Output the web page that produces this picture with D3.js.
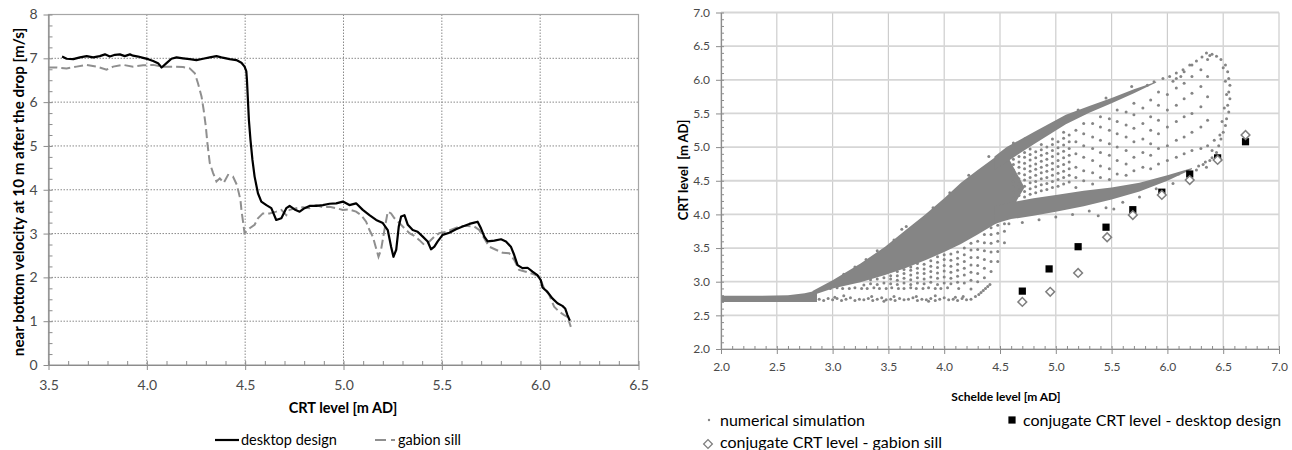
<!DOCTYPE html>
<html>
<head>
<meta charset="utf-8">
<script src="https://cdn.jsdelivr.net/npm/d3@7"></script>
<style>
  body { margin: 0; background: #fff; }
  svg { font-family: Lato, "Open Sans", sans-serif; }
</style>
</head>
<body>
<div id="chart"></div>
<script>
// ---- left chart: near bottom velocity vs CRT level ----
const desktopDesign = [
  [3.569,7.04],[3.592,6.99],[3.626,6.98],[3.660,7.02],[3.694,7.05],[3.727,7.02],[3.761,7.05],[3.787,7.09],
  [3.812,7.04],[3.838,7.08],[3.863,7.09],[3.888,7.05],[3.914,7.09],[3.930,7.06],[3.956,7.04],[3.981,7.01],
  [4.007,6.98],[4.032,6.94],[4.057,6.89],[4.075,6.79],[4.100,6.89],[4.125,6.99],[4.151,7.02],[4.184,7.00],
  [4.218,6.98],[4.252,6.96],[4.286,6.99],[4.320,7.02],[4.354,7.05],[4.379,7.02],[4.421,6.98],[4.455,6.96],
  [4.481,6.90],[4.497,6.81],[4.506,6.70],[4.509,6.51],[4.514,6.05],[4.519,5.59],[4.527,5.14],[4.537,4.68],
  [4.548,4.30],[4.565,3.92],[4.582,3.73],[4.608,3.65],[4.633,3.58],[4.658,3.31],[4.684,3.35],[4.709,3.58],
  [4.726,3.63],[4.751,3.55],[4.777,3.50],[4.802,3.58],[4.827,3.63],[4.861,3.63],[4.895,3.65],[4.929,3.68],
  [4.963,3.69],[4.997,3.73],[5.030,3.65],[5.064,3.69],[5.098,3.54],[5.132,3.42],[5.166,3.31],[5.200,3.24],
  [5.225,3.08],[5.242,2.70],[5.254,2.47],[5.268,2.63],[5.281,3.16],[5.293,3.39],[5.310,3.42],[5.327,3.20],
  [5.352,3.08],[5.377,3.04],[5.403,2.93],[5.428,2.82],[5.445,2.64],[5.462,2.70],[5.479,2.82],[5.504,2.97],
  [5.538,3.02],[5.572,3.10],[5.606,3.16],[5.640,3.22],[5.665,3.25],[5.682,3.27],[5.699,3.12],[5.716,2.93],
  [5.733,2.82],[5.767,2.84],[5.801,2.87],[5.826,2.82],[5.851,2.70],[5.868,2.51],[5.885,2.28],[5.910,2.21],
  [5.936,2.22],[5.961,2.13],[5.986,2.05],[6.003,1.94],[6.012,1.77],[6.037,1.67],[6.062,1.52],[6.088,1.41],
  [6.113,1.35],[6.127,1.29],[6.139,1.14],[6.151,1.01]
];
const gabionSill = [
  [3.499,6.79],[3.542,6.79],[3.592,6.77],[3.643,6.81],[3.694,6.85],[3.745,6.81],[3.795,6.74],[3.829,6.81],
  [3.880,6.85],[3.930,6.81],[3.981,6.84],[4.032,6.85],[4.083,6.81],[4.134,6.81],[4.184,6.80],[4.218,6.77],
  [4.244,6.66],[4.260,6.43],[4.278,6.13],[4.289,5.82],[4.300,5.44],[4.308,5.06],[4.320,4.61],[4.337,4.38],
  [4.354,4.19],[4.371,4.26],[4.391,4.16],[4.413,4.34],[4.438,4.30],[4.458,4.11],[4.476,3.77],[4.481,3.54],
  [4.489,3.27],[4.497,3.01],[4.523,3.12],[4.548,3.20],[4.565,3.35],[4.590,3.46],[4.624,3.46],[4.658,3.50],
  [4.684,3.54],[4.709,3.42],[4.726,3.54],[4.760,3.58],[4.793,3.60],[4.827,3.58],[4.861,3.65],[4.895,3.60],
  [4.929,3.61],[4.963,3.58],[4.997,3.54],[5.030,3.55],[5.064,3.50],[5.090,3.42],[5.115,3.27],[5.132,3.08],
  [5.149,2.93],[5.166,2.66],[5.178,2.47],[5.191,2.63],[5.208,3.08],[5.225,3.50],[5.242,3.46],[5.259,3.35],
  [5.284,3.24],[5.310,3.12],[5.335,3.01],[5.360,2.95],[5.386,2.85],[5.411,2.74],[5.437,2.82],[5.462,2.93],
  [5.487,3.01],[5.521,3.04],[5.555,3.10],[5.597,3.17],[5.631,3.17],[5.665,3.16],[5.690,3.08],[5.716,2.89],
  [5.741,2.70],[5.775,2.63],[5.809,2.56],[5.843,2.55],[5.868,2.40],[5.893,2.17],[5.927,2.13],[5.961,2.08],
  [5.995,2.02],[6.020,1.75],[6.046,1.60],[6.071,1.33],[6.096,1.22],[6.122,1.14],[6.139,1.10],[6.147,0.99],
  [6.156,0.87]
];
const leftXTicks = [3.5, 4.0, 4.5, 5.0, 5.5, 6.0, 6.5];
const leftYTicks = [0, 1, 2, 3, 4, 5, 6, 7, 8];

// ---- right chart: CRT level vs Schelde level ----
// solid parts of the simulation cloud, columns of [Schelde level, low CRT, high CRT]
const simBand = [[2.0,2.70,2.79],[2.3,2.70,2.79],[2.6,2.70,2.80],[2.75,2.70,2.83],[2.86,2.70,2.87]];
const simCore = [[2.82,2.80,2.86],[3.00,2.90,3.02],[3.25,2.99,3.27],[3.47,3.10,3.52],[3.65,3.20,3.76],
  [3.83,3.32,4.00],[4.00,3.44,4.24],[4.15,3.56,4.47],[4.30,3.70,4.66],[4.45,3.85,4.84],[4.55,3.93,4.92],
  [4.72,4.40,4.40]];
const simUpper = [[4.45,4.66,4.86],[4.56,4.78,5.00],[4.80,5.04,5.22],[5.09,5.34,5.48],[5.30,5.51,5.61],
  [5.50,5.65,5.73],[5.70,5.80,5.86],[5.90,5.96,5.97]];
const simLower = [[4.45,3.86,4.12],[4.60,3.93,4.18],[4.80,3.98,4.24],[5.00,4.04,4.29],[5.25,4.12,4.35],
  [5.50,4.22,4.40],[5.75,4.34,4.47],[6.00,4.50,4.58],[6.22,4.67,4.69]];
// scattered simulation points
const simPoints = [
  // bottom row near 2.73
  [2.88,2.74],[2.92,2.72],[2.96,2.75],[3.00,2.73],[3.04,2.75],[3.08,2.72],[3.12,2.74],[3.16,2.76],[3.20,2.72],
  [3.24,2.74],[3.28,2.73],[3.32,2.75],[3.36,2.72],[3.40,2.74],[3.44,2.76],[3.48,2.73],[3.52,2.74],[3.56,2.72],
  [3.60,2.75],[3.64,2.73],[3.68,2.74],[3.72,2.76],[3.76,2.72],[3.80,2.74],[3.84,2.73],[3.88,2.75],[3.92,2.72],
  [3.96,2.74],[4.00,2.76],[4.04,2.73],[4.08,2.74],[4.12,2.72],[4.16,2.75],[4.20,2.73],[4.24,2.74],[3.10,2.79],
  [3.55,2.78],[3.92,2.79],[4.17,2.78],[3.35,2.78],[3.75,2.78],[3.02,2.77],[3.46,2.71],[3.86,2.71],[4.10,2.77],
  [4.28,2.78],[4.31,2.81],[4.33,2.84],[4.35,2.87],[4.37,2.90],[4.39,2.93],[4.41,2.96],
  // row near 2.9
  [2.98,2.90],[3.04,2.91],[3.09,2.90],[3.15,2.90],[3.20,2.91],[3.26,2.90],[3.31,2.90],[3.37,2.91],[3.42,2.90],
  [3.48,2.90],[3.53,2.91],[3.59,2.90],[3.64,2.90],[3.70,2.91],[3.75,2.90],[3.81,2.90],[3.86,2.91],[3.92,2.90],
  [3.97,2.90],[4.03,2.91],[4.13,2.90],[4.24,2.89],
  // below the wedge
  [3.28,2.95],[3.34,2.97],[3.34,3.03],[3.40,2.96],[3.40,3.04],[3.46,2.98],[3.46,3.06],
  [3.52,2.97],[3.52,3.04],[3.52,3.09],[3.58,2.96],[3.58,3.02],[3.58,3.09],[3.58,3.15],
  [3.64,2.98],[3.64,3.05],[3.64,3.12],[3.64,3.18],[3.70,2.96],[3.70,3.03],[3.70,3.10],[3.70,3.17],[3.70,3.22],
  [3.76,2.98],[3.76,3.06],[3.76,3.13],[3.76,3.20],[3.76,3.27],[3.82,2.97],[3.82,3.04],[3.82,3.12],[3.82,3.19],
  [3.82,3.26],[3.88,2.99],[3.88,3.07],[3.88,3.15],[3.88,3.23],[3.88,3.31],[3.94,2.96],[3.94,3.05],[3.94,3.13],
  [3.94,3.21],[3.94,3.29],[3.94,3.37],[4.00,2.98],[4.00,3.07],[4.00,3.16],[4.00,3.24],[4.00,3.33],[4.00,3.40],
  [4.06,2.97],[4.06,3.05],[4.06,3.14],[4.06,3.23],[4.06,3.32],[4.06,3.41],[4.12,2.99],[4.12,3.08],[4.12,3.17],
  [4.12,3.26],[4.12,3.35],[4.12,3.44],[4.18,2.98],[4.18,3.10],[4.18,3.20],[4.18,3.30],[4.18,3.40],[4.18,3.50],
  [4.24,3.02],[4.24,3.14],[4.24,3.25],[4.24,3.36],[4.24,3.47],[4.24,3.57],[4.30,3.00],[4.30,3.12],[4.30,3.24],
  [4.30,3.36],[4.30,3.48],[4.30,3.60],[4.36,3.06],[4.36,3.20],[4.36,3.33],[4.36,3.46],[4.36,3.58],[4.36,3.70],
  [4.42,3.15],[4.42,3.30],[4.42,3.44],[4.42,3.57],[4.42,3.70],[4.42,3.80],[4.48,3.30],[4.48,3.45],[4.48,3.60],
  [4.48,3.72],[4.48,3.84],[4.54,3.58],[4.54,3.75],[4.54,3.86],
  // rough upper edge
  [3.10,3.11],[3.30,3.33],[3.55,3.62],[3.62,3.78],[3.66,3.82],[3.90,4.10],[4.05,4.32],[4.22,4.58],[4.40,4.86],
  [4.62,5.06],[4.72,5.12],[4.95,5.32],[5.20,5.55],[5.45,5.73],[5.68,5.90],[3.20,3.22],[3.40,3.46],
  // between the arms
  [4.62,4.24],[4.62,4.33],[4.62,4.41],[4.62,4.49],[4.62,4.57],[4.62,4.66],[4.62,4.74],[4.62,4.82],
  [4.67,4.28],[4.67,4.36],[4.67,4.45],[4.67,4.53],[4.67,4.61],[4.67,4.70],[4.67,4.78],[4.67,4.86],
  [4.72,4.26],[4.72,4.34],[4.72,4.42],[4.72,4.51],[4.72,4.59],[4.72,4.68],[4.72,4.76],[4.72,4.85],[4.72,4.92],
  [4.77,4.30],[4.77,4.38],[4.77,4.47],[4.77,4.55],[4.77,4.64],[4.77,4.72],[4.77,4.81],[4.77,4.89],[4.77,4.97],
  [4.82,4.32],[4.82,4.41],[4.82,4.49],[4.82,4.58],[4.82,4.67],[4.82,4.75],[4.82,4.84],[4.82,4.93],
  [4.87,4.35],[4.87,4.44],[4.87,4.53],[4.87,4.62],[4.87,4.70],[4.87,4.79],[4.87,4.88],[4.87,4.96],[4.87,5.04],
  [4.92,4.37],[4.92,4.46],[4.92,4.55],[4.92,4.64],[4.92,4.73],[4.92,4.82],[4.92,4.91],[4.92,5.00],
  [4.97,4.40],[4.97,4.49],[4.97,4.58],[4.97,4.67],[4.97,4.76],[4.97,4.86],[4.97,4.95],[4.97,5.04],[4.97,5.12],
  [5.02,4.42],[5.02,4.52],[5.02,4.61],[5.02,4.71],[5.02,4.80],[5.02,4.90],[5.02,4.99],[5.02,5.08],
  [5.07,4.45],[5.07,4.55],[5.07,4.64],[5.07,4.74],[5.07,4.84],[5.07,4.94],[5.07,5.03],[5.07,5.13],[5.07,5.22],
  [5.12,4.48],[5.12,4.58],[5.12,4.68],[5.12,4.78],[5.12,4.88],[5.12,4.98],[5.12,5.08],[5.12,5.18],
  [5.18,4.40],[5.18,4.55],[5.18,4.70],[5.18,4.90],[5.18,5.08],[5.18,5.25],
  [5.25,4.50],[5.25,4.65],[5.25,4.85],[5.25,5.02],[5.25,5.20],[5.25,5.35],
  [5.33,4.45],[5.33,4.62],[5.33,4.80],[5.33,4.98],[5.33,5.15],[5.33,5.35],
  [5.40,4.55],[5.40,4.72],[5.40,4.92],[5.40,5.10],[5.40,5.30],[5.40,5.45],
  [5.48,4.52],[5.48,4.68],[5.48,4.88],[5.48,5.05],[5.48,5.25],[5.48,5.42],
  [5.55,4.60],[5.55,4.80],[5.55,5.00],[5.55,5.20],[5.55,5.38],[5.55,5.55],
  [5.63,4.58],[5.63,4.75],[5.63,4.95],[5.63,5.15],[5.63,5.33],[5.63,5.52],
  [5.70,4.65],[5.70,4.85],[5.70,5.08],[5.70,5.28],[5.70,5.48],[5.70,5.65],
  [5.78,4.70],[5.78,4.92],[5.78,5.12],[5.78,5.35],[5.78,5.58],
  [5.85,4.68],[5.85,4.88],[5.85,5.05],[5.85,5.25],[5.85,5.45],[5.85,5.70],
  [5.92,4.75],[5.92,4.98],[5.92,5.20],[5.92,5.40],[5.92,5.62],[5.92,5.82],
  [6.00,4.80],[6.00,5.02],[6.00,5.30],[6.00,5.55],[6.00,5.78],
  [6.08,4.85],[6.08,5.10],[6.08,5.38],[6.08,5.62],[6.08,5.88],[6.08,6.02],
  [6.15,4.90],[6.15,5.15],[6.15,5.45],[6.15,5.72],[6.15,5.95],[6.15,6.12],
  [6.22,4.95],[6.22,5.22],[6.22,5.50],[6.22,5.80],[6.22,6.05],[6.22,6.22],
  [6.30,4.98],[6.30,5.30],[6.30,5.60],[6.30,5.90],[6.30,6.15],
  [6.36,5.02],[6.36,5.40],[6.36,5.75],[6.36,6.05],[6.36,6.30],
  // below the lower arm
  [4.58,3.86],[4.70,3.88],[4.85,3.92],[5.00,3.96],[5.15,4.00],[5.30,4.05],[5.45,4.10],[5.60,4.18],[5.75,4.26],
  [5.90,4.38],[6.05,4.46],[6.20,4.56],[6.35,4.70],[5.38,3.98],[5.52,4.08],[6.28,4.72],[6.34,4.78],[6.40,4.84],
  [6.26,4.66],[6.32,4.74],[6.38,4.80],[6.10,4.60],[5.95,4.52],
  // top tail and right rim
  [6.02,6.05],[6.08,6.10],[6.14,6.15],[6.20,6.22],[6.26,6.28],[6.31,6.34],[6.35,6.40],[6.38,6.36],[6.05,5.98],
  [6.12,6.05],[5.96,6.02],[5.88,5.97],[5.82,5.92],
  [6.40,6.38],[6.44,6.35],[6.48,6.30],[6.52,6.22],[6.54,6.12],[6.55,6.02],[6.56,5.92],[6.55,5.82],[6.56,5.72],
  [6.54,5.62],[6.55,5.52],[6.53,5.42],[6.52,5.32],[6.50,5.22],[6.48,5.12],[6.46,5.02],[6.44,4.92],[6.50,6.18],
  [6.52,5.98],[6.53,5.78],[6.51,5.58],[6.49,5.38],[6.47,5.18],[6.42,5.10],[6.40,4.95]
];
const conjDesktop = [[4.70,2.86],[4.94,3.19],[5.20,3.52],[5.45,3.81],[5.69,4.07],[5.95,4.33],[6.20,4.60],[6.45,4.84],[6.70,5.08]];
const conjGabion = [[4.70,2.70],[4.95,2.85],[5.20,3.13],[5.46,3.66],[5.69,3.99],[5.95,4.29],[6.20,4.51],[6.45,4.81],[6.70,5.18]];
const rightTicks = [2.0, 2.5, 3.0, 3.5, 4.0, 4.5, 5.0, 5.5, 6.0, 6.5, 7.0];

const svg = d3.select("#chart").append("svg")
    .attr("width", 1292)
    .attr("height", 450);

const fmt1 = d3.format(".1f");
const tickColor = "#4a4a4a";
const cloudGray = "#858585";

// ================= LEFT =================
const x1 = d3.scaleLinear().domain([3.5, 6.5]).range([48.5, 638.5]);
const y1 = d3.scaleLinear().domain([0, 8]).range([365, 14.5]);
const left = svg.append("g");

// dotted grid
left.selectAll(".vgrid").data(leftXTicks.slice(1, -1)).join("line")
    .attr("x1", d => x1(d)).attr("x2", d => x1(d))
    .attr("y1", y1(8)).attr("y2", y1(0))
    .attr("stroke", "#8a8a8a").attr("stroke-dasharray", "1.5,1.5");
left.selectAll(".hgrid").data(leftYTicks.slice(1, -1)).join("line")
    .attr("x1", x1(3.5)).attr("x2", x1(6.5))
    .attr("y1", d => y1(d)).attr("y2", d => y1(d))
    .attr("stroke", "#8a8a8a").attr("stroke-dasharray", "1.5,1.5");

left.append("rect")
    .attr("x", x1(3.5)).attr("y", y1(8))
    .attr("width", x1(6.5) - x1(3.5)).attr("height", y1(0) - y1(8))
    .attr("fill", "none").attr("stroke", "#a6a6a6").attr("stroke-width", 1.2);

// minor ticks (inside)
left.append("g").attr("transform", `translate(0,${y1(0)})`)
    .call(d3.axisBottom(x1).tickValues(d3.range(35, 66).map(d => d / 10)).tickSize(-4).tickFormat(""))
    .call(g => g.select(".domain").remove());
left.append("g").attr("transform", `translate(${x1(3.5)},0)`)
    .call(d3.axisLeft(y1).tickValues(d3.range(0, 33).map(d => d / 4)).tickSize(-4).tickFormat(""))
    .call(g => g.select(".domain").remove());
// major ticks + labels
left.append("g").attr("class", "axis")
    .attr("transform", `translate(0,${y1(0)})`)
    .call(d3.axisBottom(x1).tickValues(leftXTicks).tickFormat(fmt1).tickSizeInner(5).tickSizeOuter(0).tickPadding(10));
left.append("g").attr("class", "axis")
    .attr("transform", `translate(${x1(3.5)},0)`)
    .call(d3.axisLeft(y1).tickValues(leftYTicks).tickFormat(d3.format("d")).tickSizeInner(5).tickSizeOuter(0).tickPadding(6));
left.selectAll(".tick line").attr("stroke", "#8c8c8c");
left.selectAll(".domain").attr("stroke", "#8c8c8c").attr("stroke-width", 1.2);
left.selectAll(".axis text").attr("font-size", 14).attr("fill", tickColor).attr("font-family", "Lato");

const line1 = d3.line().x(d => x1(d[0])).y(d => y1(d[1]));
left.append("path").datum(gabionSill)
    .attr("d", line1).attr("fill", "none")
    .attr("stroke", "#8f8f8f").attr("stroke-width", 2).attr("stroke-dasharray", "9,4");
left.append("path").datum(desktopDesign)
    .attr("d", line1).attr("fill", "none")
    .attr("stroke", "#000").attr("stroke-width", 2.2).attr("stroke-linejoin", "round");

left.append("text")
    .attr("transform", "translate(18,192) rotate(-90)")
    .attr("text-anchor", "middle").attr("dominant-baseline", "central")
    .attr("font-weight", "bold").attr("font-size", 15.2)
    .text("near bottom velocity at 10 m after the drop [m/s]");
left.append("text")
    .attr("x", 343).attr("y", 413)
    .attr("text-anchor", "middle")
    .attr("font-weight", "bold").attr("font-size", 14.5)
    .text("CRT level [m AD]");

// legend
left.append("line").attr("x1", 215).attr("x2", 239).attr("y1", 440).attr("y2", 440)
    .attr("stroke", "#000").attr("stroke-width", 2.2);
left.append("text").attr("x", 241).attr("y", 445).attr("font-size", 14.5).text("desktop design");
left.append("line").attr("x1", 375).attr("x2", 397).attr("y1", 440).attr("y2", 440)
    .attr("stroke", "#8f8f8f").attr("stroke-width", 2).attr("stroke-dasharray", "11,5,4");
left.append("text").attr("x", 398).attr("y", 445).attr("font-size", 14.5).text("gabion sill");

// ================= RIGHT =================
const x2 = d3.scaleLinear().domain([2, 7]).range([721, 1279]);
const y2 = d3.scaleLinear().domain([2, 7]).range([349, 12.5]);
const right = svg.append("g");

right.selectAll(".vgrid").data(rightTicks).join("line")
    .attr("x1", d => x2(d)).attr("x2", d => x2(d))
    .attr("y1", y2(7)).attr("y2", y2(2))
    .attr("stroke", "#cdcdcd").attr("stroke-width", 1.2);
right.selectAll(".hgrid").data(rightTicks).join("line")
    .attr("x1", x2(2)).attr("x2", x2(7))
    .attr("y1", d => y2(d)).attr("y2", d => y2(d))
    .attr("stroke", "#d6d6d6").attr("stroke-width", 1.8);

// simulation cloud
const cloudArea = d3.area().x(d => x2(d[0])).y0(d => y2(d[1])).y1(d => y2(d[2]));
[simBand, simCore, simUpper, simLower].forEach(part => {
    right.append("path").datum(part).attr("d", cloudArea).attr("fill", cloudGray);
});
right.selectAll(".sim").data(simPoints).join("circle")
    .attr("cx", d => x2(d[0])).attr("cy", d => y2(d[1]))
    .attr("r", 1.5).attr("fill", cloudGray);

// minor ticks
right.append("g").attr("transform", `translate(0,${y2(2)})`)
    .call(d3.axisBottom(x2).tickValues(d3.range(20, 71).map(d => d / 10)).tickSize(-3).tickFormat(""))
    .call(g => g.select(".domain").remove());
right.append("g").attr("transform", `translate(${x2(2)},0)`)
    .call(d3.axisLeft(y2).tickValues(d3.range(20, 71).map(d => d / 10)).tickSize(-3).tickFormat(""))
    .call(g => g.select(".domain").remove());
right.append("g").attr("class", "axis")
    .attr("transform", `translate(0,${y2(2)})`)
    .call(d3.axisBottom(x2).tickValues(rightTicks).tickFormat(fmt1).tickSizeInner(5).tickSizeOuter(0).tickPadding(8));
right.append("g").attr("class", "axis")
    .attr("transform", `translate(${x2(2)},0)`)
    .call(d3.axisLeft(y2).tickValues(rightTicks).tickFormat(fmt1).tickSizeInner(5).tickSizeOuter(0).tickPadding(6));
right.selectAll(".tick line").attr("stroke", "#8c8c8c");
right.selectAll(".domain").attr("stroke", "#8c8c8c").attr("stroke-width", 1.2);
right.selectAll(".axis text").attr("font-size", 12).attr("fill", tickColor).attr("font-family", "Lato");

// conjugate levels
const square = d3.symbol(d3.symbolSquare, 52);
const diamond = d3.symbol(d3.symbolSquare, 38);
right.selectAll(".desk").data(conjDesktop).join("path")
    .attr("d", square)
    .attr("transform", d => `translate(${x2(d[0])},${y2(d[1])})`)
    .attr("fill", "#000");
right.selectAll(".gab").data(conjGabion).join("path")
    .attr("d", diamond)
    .attr("transform", d => `translate(${x2(d[0])},${y2(d[1])}) rotate(45)`)
    .attr("fill", "#fff").attr("stroke", "#7f7f7f").attr("stroke-width", 1.5);

right.append("text")
    .attr("transform", "translate(683,170) rotate(-90)")
    .attr("text-anchor", "middle").attr("dominant-baseline", "central")
    .attr("font-weight", "bold").attr("font-size", 13)
    .style("white-space", "pre")
    .text("CRT level  [m AD]");
right.append("text")
    .attr("x", 1006).attr("y", 401)
    .attr("text-anchor", "middle")
    .attr("font-weight", "bold").attr("font-size", 12)
    .text("Schelde level [m AD]");

// legend
right.append("circle").attr("cx", 709).attr("cy", 420).attr("r", 1.2).attr("fill", cloudGray);
right.append("text").attr("x", 720).attr("y", 426).attr("font-size", 16).text("numerical simulation");
right.append("path").attr("d", square).attr("transform", "translate(1012,420)").attr("fill", "#000");
right.append("text").attr("x", 1023).attr("y", 426).attr("font-size", 16).text("conjugate CRT level - desktop design");
right.append("path").attr("d", diamond).attr("transform", "translate(708,444) rotate(45)")
    .attr("fill", "#fff").attr("stroke", "#7f7f7f").attr("stroke-width", 1.3);
right.append("text").attr("x", 720).attr("y", 448).attr("font-size", 16).text("conjugate CRT level - gabion sill");
</script>
</body>
</html>
